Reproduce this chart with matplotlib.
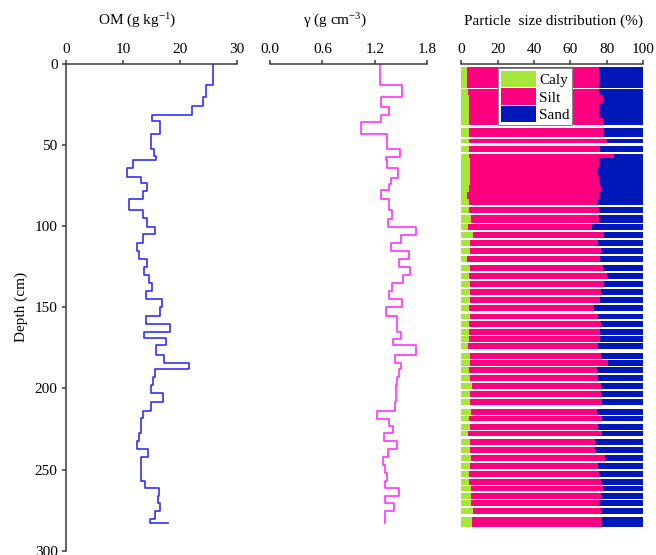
import matplotlib
matplotlib.use("Agg")
import matplotlib.pyplot as plt
import numpy as np
from matplotlib.patches import Patch

plt.rcParams['font.family'] = ['Liberation Serif', 'DejaVu Serif']
plt.rcParams['mathtext.fontset'] = 'custom'
plt.rcParams['mathtext.rm'] = 'Liberation Serif'
plt.rcParams['mathtext.it'] = 'Liberation Serif:italic'

# OM profile: depth where each layer starts (cm) and its value (g/kg)
om_depth = [0, 13.2, 20.1, 25.9, 31.2, 35, 43.2, 52.2, 56.7, 59.2, 64.1, 69.9, 73.6, 78.1,
            83.4, 90, 95.1, 100.3, 104.8, 110.2, 115.1, 120.4, 125.3, 130.3, 135.2, 140.1,
            145.1, 150, 155.4, 160.3, 165.2, 168.9, 173.4, 179.2, 184.1, 188.2, 193.2, 198.1,
            203, 208.4, 214.1, 218.2, 223.2, 227.7, 232.6, 237.5, 242.5, 247.4, 252.3, 257.3,
            261.4, 266.3, 270.4, 275.4, 280.3, 283.2]
om_val = [25.9, 24.6, 24.1, 22.1, 15.1, 16.5, 15.0, 15.5, 15.9, 11.8, 10.7, 13.2, 14.3, 13.5,
          11.1, 13.6, 14.3, 15.6, 13.5, 12.5, 12.9, 14.2, 13.7, 14.6, 15.2, 14.1, 16.8, 16.5,
          14.1, 18.3, 13.7, 17.5, 15.9, 17.3, 21.7, 15.7, 15.3, 14.9, 17.0, 15.0, 13.6, 13.1,
          13.2, 12.9, 12.5, 14.5, 13.2, 13.1, 13.2, 13.8, 16.4, 16.2, 16.5, 15.7, 14.8, 17.9]

# bulk density profile (g/cm3)
bd_depth = [0, 13.2, 20.1, 26.3, 31.2, 35.8, 43.2, 52.2, 57.1, 59.2, 64.1, 70.3, 74, 77.7, 83,
            90, 95.4, 100.3, 105.2, 110.2, 115.1, 120.4, 125.3, 130.3, 135.2, 140.1, 145.1, 150,
            155.4, 165.2, 169.3, 173.4, 179.2, 184.1, 188.2, 193.2, 198.1, 203, 208.4, 214.1,
            218.6, 223.2, 227.3, 232.2, 237.5, 242.5, 247.4, 252.3, 257.3, 261.4, 266.3, 270.4,
            275.4, 283.2]
bd_val = [1.259, 1.51, 1.274, 1.358, 1.266, 1.037, 1.335, 1.487, 1.327, 1.335, 1.465, 1.381,
          1.358, 1.274, 1.365, 1.396, 1.350, 1.670, 1.503, 1.388, 1.587, 1.472, 1.602, 1.518,
          1.396, 1.365, 1.510, 1.327, 1.457, 1.503, 1.411, 1.670, 1.427, 1.495, 1.472, 1.449,
          1.44, 1.442, 1.434, 1.221, 1.365, 1.411, 1.304, 1.457, 1.350, 1.289, 1.312, 1.335,
          1.312, 1.472, 1.319, 1.419, 1.319, 1.319]

# particle size samples: top / bottom depth (cm), clay %, silt %, sand %
ps_top = [2.0, 15.6, 19.0, 24.0, 33.3, 39.7, 46.0, 50.6, 55.7, 57.7, 63.5, 68.4, 74.6, 79.0,
          83.0, 88.4, 93.3, 98.4, 103.6, 108.7, 113.6, 118.6, 123.7, 128.7, 133.6, 138.7,
          143.9, 148.8, 153.9, 158.6, 163.6, 167.7, 171.8, 178.0, 182.5, 187.0, 191.9, 196.9,
          201.4, 206.7, 212.9, 217.0, 221.9, 226.1, 231.0, 235.9, 240.9, 245.8, 250.7, 256.0,
          259.8, 264.7, 268.8, 273.7, 279.1]
ps_bot = [15.0, 19.0, 24.0, 33.3, 37.6, 45.2, 48.9, 54.0, 57.7, 63.5, 68.4, 74.6, 79.0, 83.0,
          86.9, 92.1, 97.8, 102.3, 107.3, 112.2, 117.3, 122.3, 127.4, 132.3, 137.3, 142.4,
          147.3, 152.5, 157.4, 162.3, 167.3, 171.4, 175.5, 181.7, 186.2, 190.7, 195.6, 200.6,
          205.5, 210.4, 216.6, 220.3, 225.6, 229.3, 234.7, 239.6, 244.6, 249.5, 254.4, 259.4,
          263.4, 268.4, 272.5, 277.4, 285.3]
clay = [3.3, 3.8, 4.0, 4.4, 4.4, 4.2, 4.2, 4.2, 4.4, 4.8, 4.8, 4.6, 4.4, 3.4, 4.4, 4.2, 5.3,
        3.5, 6.6, 4.8, 4.8, 3.3, 4.9, 4.2, 4.6, 4.9, 4.8, 4.0, 4.8, 4.4, 4.4, 4.4, 3.8, 4.6,
        4.8, 4.2, 4.8, 5.7, 4.9, 4.8, 5.1, 4.4, 4.8, 3.7, 4.9, 4.9, 5.1, 4.6, 4.4, 4.0, 5.1,
        5.1, 5.1, 6.2, 6.0]
silt = [72.5, 72.0, 74.0, 71.4, 73.6, 74.2, 75.7, 72.0, 79.4, 71.0, 70.0, 71.0, 72.4, 72.4,
        70.4, 71.4, 70.3, 68.5, 71.6, 70.5, 71.8, 73.1, 73.1, 75.7, 74.0, 71.8, 71.4, 68.9,
        70.5, 72.2, 71.8, 71.8, 71.1, 72.1, 75.6, 70.3, 70.1, 70.9, 71.8, 72.3, 69.6, 73.1,
        70.1, 73.6, 68.5, 68.4, 73.8, 70.7, 71.4, 72.7, 72.7, 71.6, 70.5, 70.5, 71.5]
sand = [24.2, 24.2, 22.0, 24.2, 22.0, 21.6, 20.1, 23.8, 16.2, 24.2, 25.2, 24.4, 23.2, 24.2,
        25.2, 24.4, 24.4, 28.0, 21.8, 24.7, 23.4, 23.6, 22.0, 20.1, 21.4, 23.3, 23.8, 27.1,
        24.7, 23.4, 23.8, 23.8, 25.1, 23.3, 19.6, 25.5, 25.1, 23.4, 23.3, 22.9, 25.3, 22.5,
        25.1, 22.7, 26.6, 26.7, 21.1, 24.7, 24.2, 23.3, 22.2, 23.3, 24.4, 23.3, 22.5]

spine_col = '#3a3a3a'
fig = plt.figure(figsize=(6.56, 5.55), dpi=100)
ax1 = fig.add_axes([0.1006, 0.0077, 0.2602, 0.877])
ax2 = fig.add_axes([0.4116, 0.0077, 0.2398, 0.877])
ax3 = fig.add_axes([0.7032, 0.0077, 0.2774, 0.877])

for ax in (ax1, ax2, ax3):
    ax.set_ylim(300, 0)
    ax.xaxis.tick_top()
    for s in ('right', 'bottom', 'left'):
        ax.spines[s].set_visible(False)
    ax.spines['top'].set_color(spine_col)
    ax.spines['top'].set_linewidth(1.1)
    ax.tick_params(axis='x', direction='out', length=3, width=1.1, color=spine_col,
                   labelsize=11, pad=3)
    ax.tick_params(axis='y', left=False, labelleft=False)

# OM panel
ax1.plot(om_val, om_depth, drawstyle='steps-pre', color='#3030ff', lw=1.2)
ax1.set_xlim(0, 30)
ax1.set_xticks([0, 10, 20, 30])
ax1.spines['left'].set_visible(True)
ax1.spines['left'].set_color(spine_col)
ax1.spines['left'].set_linewidth(1.1)
ax1.set_yticks(np.arange(0, 301, 50))
ax1.tick_params(axis='y', left=True, labelleft=True, direction='out', length=3, width=1.1,
                color=spine_col, labelsize=11, pad=3)
ax1.set_ylabel('Depth (cm)', fontsize=11, labelpad=5)
ax1.text(0.419, 1.0795, 'OM (g kg$^{-1}$)', transform=ax1.transAxes, ha='center',
         va='baseline', fontsize=11)

# bulk density panel
ax2.plot(bd_val, bd_depth, drawstyle='steps-pre', color='#ff33ff', lw=1.2)
ax2.set_xlim(0, 1.8)
ax2.set_xticks([0, 0.6, 1.2, 1.8])
ax2.set_xticklabels(['0.0', '0.6', '1.2', '1.8'])
ax2.text(0.413, 1.0795, 'γ (g cm$^{-3}$)', transform=ax2.transAxes, ha='center',
         va='baseline', fontsize=11)

# particle size panel
top = np.array(ps_top)
h = np.array(ps_bot) - top
c = np.array(clay)
s = np.array(silt)
sd = np.array(sand)
ax3.barh(top, c, height=h, left=0, align='edge', color='#a6e63a', linewidth=0)
ax3.barh(top, s, height=h, left=c, align='edge', color='#ff0080', linewidth=0)
ax3.barh(top, sd, height=h, left=c + s, align='edge', color='#0018b8', linewidth=0)
ax3.set_xlim(0, 100)
ax3.set_xticks([0, 20, 40, 60, 80, 100])
ax3.text(0.508, 1.0795, 'Particle  size distribution (%)', transform=ax3.transAxes,
         ha='center', va='baseline', fontsize=11)
handles = [Patch(facecolor='#a6e63a', label='Caly'),
           Patch(facecolor='#ff0080', label='Silt'),
           Patch(facecolor='#0018b8', label='Sand')]
leg = ax3.legend(handles=handles, loc='upper left', bbox_to_anchor=(0.203, 0.991),
                 borderaxespad=0, fancybox=False, framealpha=1, fontsize=11,
                 handlelength=2.3, handleheight=1.25, labelspacing=0.1,
                 handletextpad=0.25, borderpad=0.15)
leg.get_frame().set_edgecolor('#888888')
leg.get_frame().set_linewidth(0.8)

fig.savefig('out.png', dpi=100)
